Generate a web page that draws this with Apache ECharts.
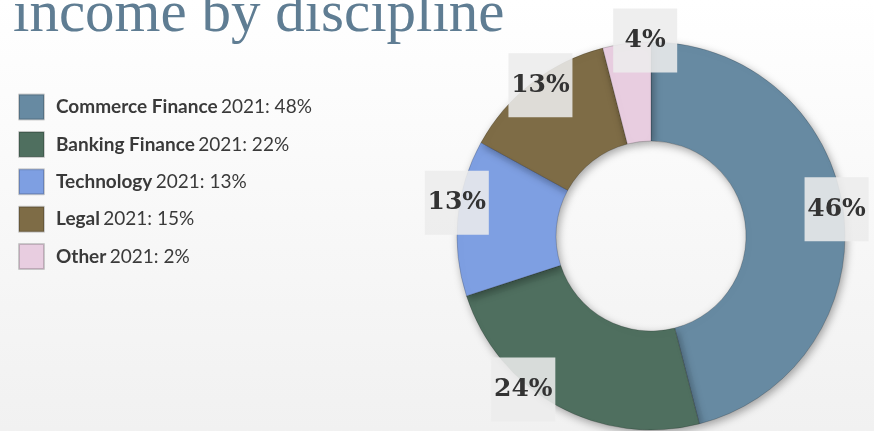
<!DOCTYPE html>
<html>
<head>
<meta charset="utf-8">
<script src="https://cdn.jsdelivr.net/npm/echarts@6/dist/echarts.min.js"></script>
<style>
  html, body { margin: 0; padding: 0; }
  #main {
    width: 874px;
    height: 431px;
    background: linear-gradient(#ffffff, #f1f1f1);
  }
</style>
</head>
<body>
<div id="main"></div>
<script>
// slice shares
var categories = ['Commerce Finance', 'Banking Finance', 'Technology', 'Legal', 'Other'];
var shares = [46, 24, 13, 13, 4];
// legend text (as printed beside the swatches)
var legendNotes = ['2021: 48%', '2021: 22%', '2021: 13%', '2021: 15%', '2021: 2%'];
var colors = ['#678aa2', '#4f6f5f', '#7e9fe2', '#7e6c46', '#e8cde0'];

var cx = 651, cy = 236, rOut = 194, rIn = 95;
// small hand nudges so the label boxes sit where the original put them
var labelNudge = [[5, -4], [-40, -6], [-13, -16], [1, -7], [17, -15]];

var myChart = echarts.init(document.getElementById('main'));

var data = [];
for (var i = 0; i < categories.length; i++) {
  data.push({ name: categories[i], value: shares[i] });
}

var opt = {
  color: colors,
  graphic: [{
    type: 'text',
    left: 13,
    top: -14,
    style: {
      text: 'income by discipline',
      font: '59px "Liberation Serif"',
      fill: '#5f7d93'
    }
  }],
  legend: {
    orient: 'vertical',
    left: 13,
    top: 88.5,
    itemWidth: 25,
    itemHeight: 25,
    itemGap: 10.4,
    icon: 'rect',
    data: categories,
    formatter: function (name) {
      return '{b|' + name + '} {n|' + legendNotes[categories.indexOf(name)] + '}';
    },
    textStyle: {
      padding: [0, 0, 0, 7],
      rich: {
        b: { fontFamily: 'Lato', fontWeight: 'bold', fontSize: 19, lineHeight: 25, color: '#3a3a3a' },
        n: { fontFamily: 'Lato', fontSize: 19, lineHeight: 25, color: '#3a3a3a' }
      }
    }
  },
  series: [{
    type: 'pie',
    center: [cx, cy],
    radius: [rIn, rOut],
    startAngle: 90,
    clockwise: true,
    silent: true,
    itemStyle: {
      borderColor: 'rgba(0,0,0,0.18)',
      borderWidth: 1,
      shadowBlur: 8,
      shadowColor: 'rgba(0,0,0,0.35)',
      shadowOffsetX: 2,
      shadowOffsetY: 3
    },
    label: {
      show: true,
      position: 'inside',
      formatter: '{c}%',
      fontFamily: 'DejaVu Serif',
      fontWeight: 'bold',
      fontSize: 25,
      color: '#333',
      backgroundColor: 'rgba(236,236,236,0.88)',
      width: 64,
      height: 64,
      lineHeight: 64,
      align: 'center'
    },
    labelLayout: function (p) {
      // push each label from the ring's middle out to near its outer edge
      var r = p.labelRect;
      var lx = r.x + r.width / 2, ly = r.y + r.height / 2;
      var dx = lx - cx, dy = ly - cy;
      var d = Math.sqrt(dx * dx + dy * dy);
      var k = 182 / d;
      var n = labelNudge[p.dataIndex];
      return { dx: dx * k - dx + n[0], dy: dy * k - dy + n[1] };
    },
    data: data
  }]
};
myChart.setOption(opt);
</script>
</body>
</html>
